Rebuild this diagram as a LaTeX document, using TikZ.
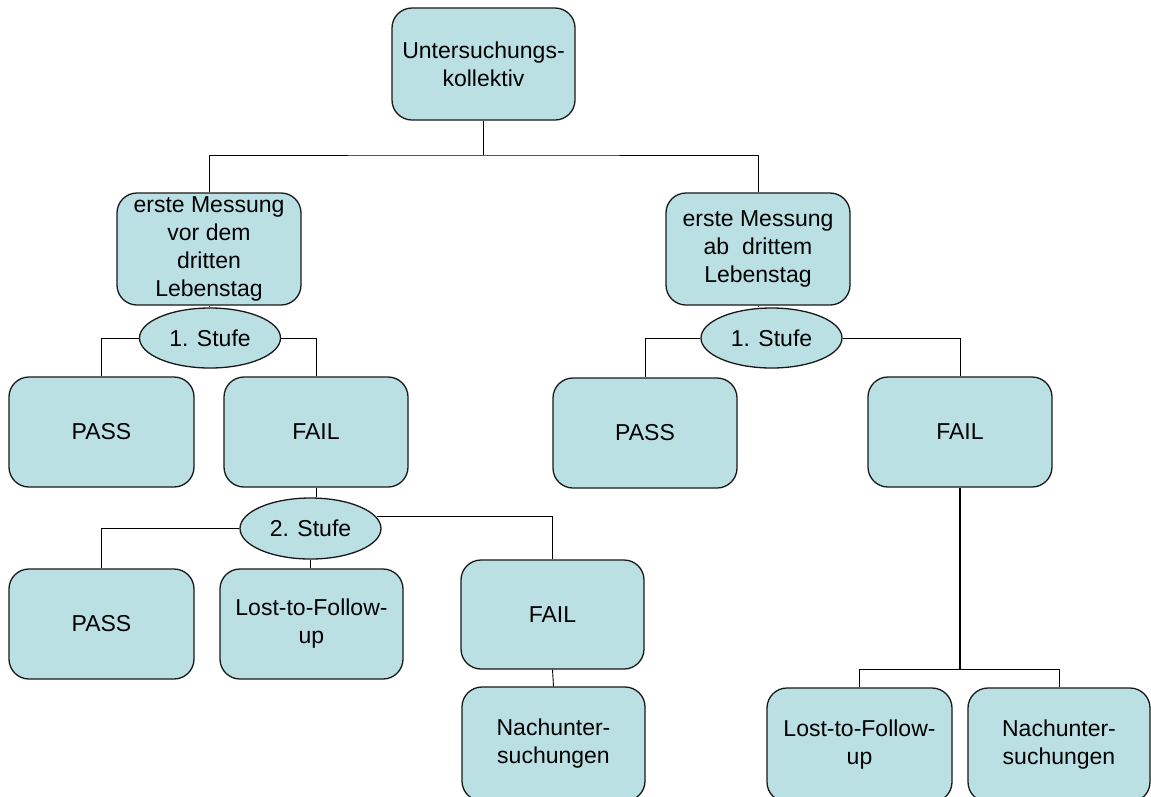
\documentclass[tikz,border=0pt]{standalone}
\usepackage{fontspec}
\setmainfont{Liberation Sans}
\usetikzlibrary{shapes.geometric}
\definecolor{boxfill}{RGB}{186,224,228}
\tikzset{
  rbox/.style={draw=black!90, line width=1.3pt, fill=boxfill, rounded corners=20pt,
    minimum width=#1, minimum height=110pt, inner sep=0pt, align=center,
    font=\fontsize{23}{28}\selectfont},
  rbox/.default=184pt,
  stage/.style={draw=black!90, line width=1.3pt, fill=boxfill, ellipse,
    minimum width=141pt, minimum height=60pt, inner sep=0pt,
    font=\fontsize{23}{28}\selectfont},
  conn/.style={draw=black, line width=0.9pt}
}
\begin{document}
\begin{tikzpicture}[x=1pt,y=-1pt]
\useasboundingbox (0,0) rectangle (1151,796);
% nodes
\node[rbox=183pt, minimum height=112pt] (top) at (483.5,64) {Untersuchungs-\\kollektiv};
\node[rbox, minimum height=112pt] (L1) at (209,249) {erste Messung\\vor dem\\dritten\\Lebenstag};
\node[rbox, minimum height=112pt] (R1) at (758,249) {erste Messung\\ab~ drittem\\Lebenstag};
\node[stage] (E1L) at (210,338) {1. Stufe};
\node[stage] (E1R) at (771.5,338) {1. Stufe};
\node[rbox=185pt] (PL) at (101.5,432) {PASS};
\node[rbox] (FL) at (316,432) {FAIL};
\node[rbox] (PR) at (645,433) {PASS};
\node[rbox] (FR) at (960,432) {FAIL};
\node[stage, minimum height=61pt] (E2) at (310.5,528.5) {2. Stufe};
\node[rbox=185pt] (P3) at (101.5,624) {PASS};
\node[rbox=183pt] (L3) at (311.5,624) {Lost-to-Follow-\\up};
\node[rbox=183pt, minimum height=109pt] (F3) at (552.5,614.5) {FAIL};
\node[rbox=183pt, minimum height=114pt] (N3) at (553.5,744) {Nachunter-\\suchungen};
\node[rbox=185pt, minimum height=114pt] (LR) at (859.5,745) {Lost-to-Follow-\\up};
\node[rbox=182pt, minimum height=114pt] (NR) at (1059,745) {Nachunter-\\suchungen};
% junctions
\coordinate (j0) at (483.5,155);
\coordinate (j1) at (960,669);
% connectors
\draw[conn, line width=1.3pt] (top.south) -- (j0);
\draw[conn] (L1.north) |- (j0) -| (R1.north);
\draw[conn] (L1.south) -- (L1.south |- E1L.north);
\draw[conn] (E1L.west) -| (PL.north);
\draw[conn] (E1L.east) -| (FL.north);
\draw[conn] (R1.south) -- (R1.south |- E1R.north);
\draw[conn] (E1R.west) -| (PR.north);
\draw[conn] (E1R.east) -| (FR.north);
\draw[conn] (FL.south) -- (FL.south |- E2.north);
\draw[conn] (E2.west) -| (P3.north);
\draw[conn] (E2.south) -- (E2.south |- L3.north);
\draw[conn] (E2.10) -| (F3.north);
\draw[conn] (F3.south) -- (N3.north);
\draw[conn, line width=1.3pt] (FR.south) -- (j1);
\draw[conn] (LR.north) |- (j1) -| (NR.north);
\end{tikzpicture}
\end{document}
